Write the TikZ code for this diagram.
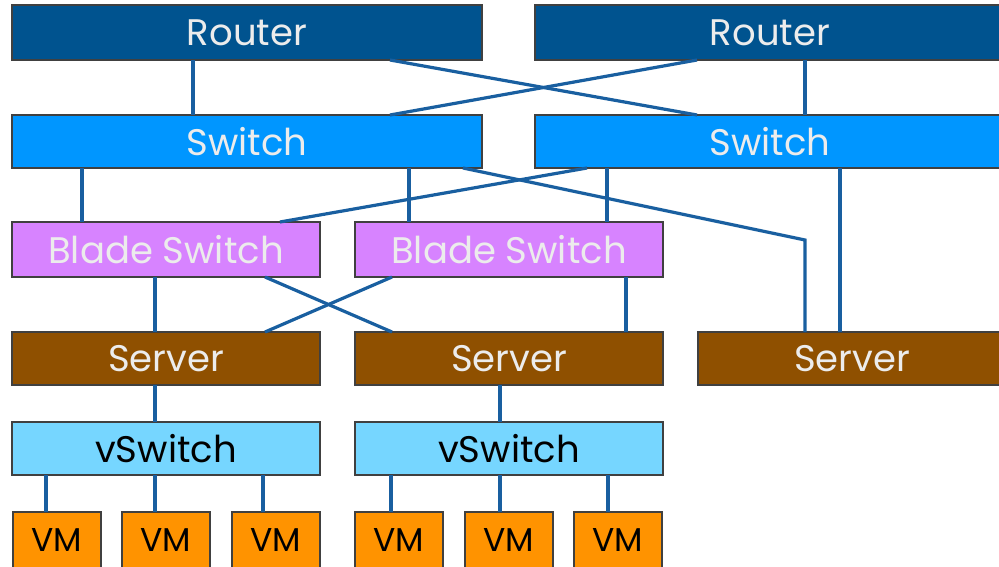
\documentclass[tikz,border=0pt]{standalone}
\usepackage{fontspec}
\setmainfont{Poppins}
\definecolor{routerc}{RGB}{0,83,143}
\definecolor{switchc}{RGB}{0,150,255}
\definecolor{bladec}{RGB}{215,131,255}
\definecolor{serverc}{RGB}{143,80,0}
\definecolor{vswc}{RGB}{118,214,255}
\definecolor{vmc}{RGB}{255,147,0}
\definecolor{linkc}{RGB}{25,95,160}
\definecolor{lighttxt}{RGB}{236,236,236}
\begin{document}
\begin{tikzpicture}[x=1pt,y=-1pt,
  box/.style={draw=black!75,line width=1.1pt,inner sep=0pt,outer sep=0pt,anchor=north west,
    font=\fontsize{37}{40}\selectfont},
  wide/.style={box,minimum width=470pt,minimum height=55pt},
  mid/.style={box,minimum width=308pt,minimum height=54pt},
  vmbox/.style={box,minimum width=88pt,minimum height=56pt,fill=vmc,text=black,font=\fontsize{33}{36}\selectfont},
  link/.style={draw=linkc,line width=3.2pt}]
\useasboundingbox (0,0) rectangle (999,567);
% nodes
\node[wide,fill=routerc,text=lighttxt] (r1) at (12,5) {Router};
\node[wide,fill=routerc,text=lighttxt] (r2) at (535,5) {Router};
\node[wide,minimum height=53pt,fill=switchc,text=lighttxt] (s1) at (12,115) {Switch};
\node[wide,minimum height=53pt,fill=switchc,text=lighttxt] (s2) at (535,115) {Switch};
\node[mid,minimum height=55pt,fill=bladec,text=lighttxt] (b1) at (12,222) {Blade Switch};
\node[mid,minimum height=55pt,fill=bladec,text=lighttxt] (b2) at (355,222) {Blade Switch};
\node[mid,minimum height=53pt,fill=serverc,text=lighttxt] (v1) at (12,332) {Server};
\node[mid,minimum height=53pt,fill=serverc,text=lighttxt] (v2) at (355,332) {Server};
\node[mid,minimum height=53pt,fill=serverc,text=lighttxt] (v3) at (698,332) {Server};
\node[mid,minimum height=53pt,fill=vswc,text=black] (w1) at (12,422) {vSwitch};
\node[mid,minimum height=53pt,fill=vswc,text=black] (w2) at (355,422) {vSwitch};
\node[vmbox] (m1) at (13,512) {VM};
\node[vmbox] (m2) at (122,512) {VM};
\node[vmbox] (m3) at (232,512) {VM};
\node[vmbox] (m4) at (355,512) {VM};
\node[vmbox] (m5) at (465,512) {VM};
\node[vmbox] (m6) at (574,512) {VM};
% links
\coordinate (bend) at (805,240);
\draw[link] ([xshift=181pt]r1.south west) -- ([xshift=181pt]s1.north west);
\draw[link] ([xshift=270pt]r2.south west) -- ([xshift=270pt]s2.north west);
\draw[link] ([xshift=378pt]r1.south west) -- ([xshift=162pt]s2.north west);
\draw[link] ([xshift=162pt]r2.south west) -- ([xshift=378pt]s1.north west);
\draw[link] ([xshift=70pt]s1.south west) -- ([xshift=70pt]b1.north west);
\draw[link] ([xshift=397pt]s1.south west) -- ([xshift=54pt]b2.north west);
\draw[link] ([xshift=72pt]s2.south west) -- ([xshift=252pt]b2.north west);
\draw[link] ([xshift=52pt]s2.south west) -- ([xshift=268pt]b1.north west);
\draw[link] ([xshift=451pt]s1.south west) -- (bend) -- ([xshift=107pt]v3.north west);
\draw[link] ([xshift=305pt]s2.south west) -- ([xshift=142pt]v3.north west);
\draw[link] ([xshift=143pt]b1.south west) -- ([xshift=143pt]v1.north west);
\draw[link] ([xshift=253pt]b1.south west) -- ([xshift=37pt]v2.north west);
\draw[link] ([xshift=37pt]b2.south west) -- ([xshift=253pt]v1.north west);
\draw[link] ([xshift=271pt]b2.south west) -- ([xshift=271pt]v2.north west);
\draw[link] ([xshift=143pt]v1.south west) -- ([xshift=143pt]w1.north west);
\draw[link] ([xshift=145pt]v2.south west) -- ([xshift=145pt]w2.north west);
\draw[link] ([xshift=34pt]w1.south west) -- ([xshift=33pt]m1.north west);
\draw[link] ([xshift=143pt]w1.south west) -- ([xshift=33pt]m2.north west);
\draw[link] ([xshift=251pt]w1.south west) -- ([xshift=31pt]m3.north west);
\draw[link] ([xshift=36pt]w2.south west) -- ([xshift=36pt]m4.north west);
\draw[link] ([xshift=145pt]w2.south west) -- ([xshift=35pt]m5.north west);
\draw[link] ([xshift=253pt]w2.south west) -- ([xshift=34pt]m6.north west);
\end{tikzpicture}
\end{document}
